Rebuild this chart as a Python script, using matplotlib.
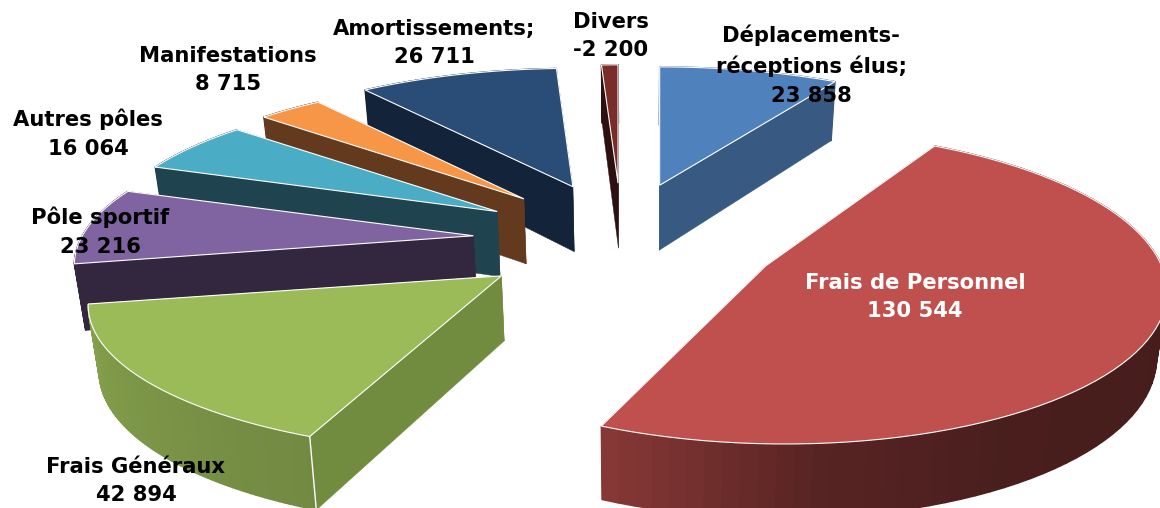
import numpy as np
import matplotlib
matplotlib.use('Agg')
import matplotlib.pyplot as plt
from matplotlib.patches import Polygon

plt.rcParams['font.family'] = ['DejaVu Sans']

# Data, clockwise from 12 o'clock
names = ['Déplacements-\nréceptions élus;', 'Frais de Personnel', 'Frais Généraux', 'Pôle sportif',
         'Autres pôles', 'Manifestations', 'Amortissements;', 'Divers']
values = [23858, 130544, 42894, 23216, 16064, 8715, 26711, -2200]

# Styles
top_colors = ['#4F81BD', '#C0504D', '#9BBB59', '#8064A2', '#4BACC6', '#F79646', '#2A4D78', '#7A2C2A']
side_colors = ['#385A82', '#4A1E1E', '#728C3F', '#32273F', '#1F444F', '#643A1E', '#12233A', '#2E1010']
label_pos = [(811, 65), (915, 297), (136, 481), (100, 232), (88, 134), (228, 70), (434, 43), (611, 36)]
label_colors = ['black', 'white', 'black', 'black', 'black', 'black', 'black', 'black']
# back-to-front drawing order
draw_order = [7, 6, 5, 4, 3, 2, 0, 1]
# small per-slice corrections of the projection
nudge_x = [-9, -1, -2, 5, 8, 7, 2, -4]
slice_scale = [1, 0.975, 1.025, 0.99, 0.98, 0.98, 0.99, 1]

# Projection parameters (pixels)
cx, cy = 626, 240   # pie centre
explode = 158       # slice offset from centre
flat = 0.36         # squash of the explode direction
R = 395             # radius
Rs = 142            # radius, vertical
k = 0.2             # perspective strength
depth = 65
vanish_x = 640


def project(i, a):
    # a is degrees clockwise from top, result is relative to the slice apex
    u = np.sin(np.radians(a))
    v = np.cos(np.radians(a))
    w = 1 + k * v
    px = slice_scale[i] * R * u / w
    py = -Rs * v / w
    if i == 1:
        # the big slice leans a little in the original
        px, py = px + 0.076 * py + 5.7, 1.06 * py - 10
    return px, py, depth / w**0.6


def arc_shade(i, a):
    # the two big slices have a shaded rim
    if i == 1:
        return np.interp(a, [90, 150, 175, 190, 203], [0.36, 0.38, 0.45, 0.6, 0.72])
    if i == 2:
        return np.interp(a, [203, 259], [0.735, 0.86])
    return None


def darker(color, f):
    return np.array(matplotlib.colors.to_rgb(color)) * f


fig = plt.figure(figsize=(11.6, 5.08), dpi=100)
ax = fig.add_axes([0, 0, 1, 1])
ax.set_xlim(0, 1160)
ax.set_ylim(508, 0)
ax.axis('off')

sizes = np.abs(values)
edges = np.concatenate([[0], np.cumsum(sizes)]) / sizes.sum() * 360

for z, i in enumerate(draw_order):
    a0, a1 = edges[i], edges[i + 1]
    mid = (a0 + a1) / 2
    ax0 = cx + nudge_x[i] + explode * np.sin(np.radians(mid))
    ay0 = cy - explode * flat * np.cos(np.radians(mid))
    ang = np.linspace(a0, a1, 80)
    px, py, ph = project(i, ang)
    x = ax0 + px
    y = ay0 + py
    xb = x + (vanish_x - x) * 0.02
    yb = y + ph
    apex_b = (ax0 + (vanish_x - ax0) * 0.02, ay0 + depth)

    # radial sides, the one nearer the viewer last
    ends = [0, -1] if y[0] < y[-1] else [-1, 0]
    for j in ends:
        ax.add_patch(Polygon([(ax0, ay0), (x[j], y[j]), (xb[j], yb[j]), apex_b],
                             closed=True, fc=side_colors[i], ec=side_colors[i], lw=0.3, zorder=z))
    # rim
    for j in range(len(ang) - 1):
        f = arc_shade(i, ang[j])
        col = side_colors[i] if f is None else darker(top_colors[i], f)
        ax.add_patch(Polygon([(x[j], y[j]), (x[j + 1], y[j + 1]), (xb[j + 1], yb[j + 1]), (xb[j], yb[j])],
                             closed=True, fc=col, ec=col, lw=1, zorder=z))
    # corner line of the green slice
    if i == 2:
        ax.plot([x[0], xb[0]], [y[0], yb[0]], color='white', lw=1, zorder=z)
    # top face
    ax.add_patch(Polygon(np.vstack([[(ax0, ay0)], np.column_stack([x, y])]),
                         closed=True, fc=top_colors[i], ec='white', lw=0.8, zorder=z))

for name, val, pos, col in zip(names, values, label_pos, label_colors):
    txt = name + '\n' + f'{val:,}'.replace(',', ' ')
    ax.text(pos[0], pos[1], txt, ha='center', va='center', fontsize=15.2, fontweight='bold',
            color=col, linespacing=1.55, zorder=20)

fig.savefig('out.png', dpi=100)
